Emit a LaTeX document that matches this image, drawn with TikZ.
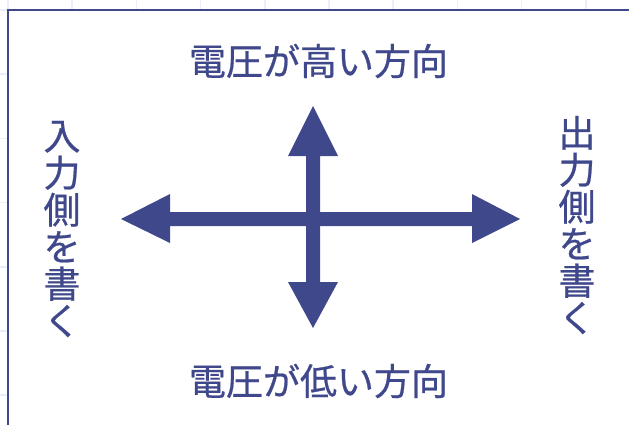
\documentclass[tikz,border=0pt]{standalone}
\usepackage{fontspec}
\newfontfamily\jpfont[FakeBold=0.6]{Noto Sans CJK JP}
\definecolor{navy}{RGB}{64,72,140}
\definecolor{gridc}{RGB}{232,238,250}
\begin{document}
\begin{tikzpicture}[x=1pt,y=-1pt,
  lbl/.style={text=navy,font=\jpfont\fontsize{37}{37}\selectfont,inner sep=0pt},
  vlbl/.style={lbl,align=center},
  arr/.style={fill=navy,draw=none}]
\useasboundingbox (0,0) rectangle (629,424);
\begin{scope}
\clip (0,0) rectangle (629,424);
\foreach \k in {0,...,9}{
  \draw[gridc,line width=1.5pt] ({8+64.2*\k},0) -- ({8+64.2*\k},424);
}
\foreach \k in {0,...,6}{
  \draw[gridc,line width=1.5pt] (0,{10+64.2*\k}) -- (629,{10+64.2*\k});
}
\filldraw[fill=white,draw=navy,line width=2.5pt] (8,10) rectangle (660,460);
\end{scope}
% arrows
\coordinate (c) at (313,219);
\fill[arr] (306,226) -- (306,156) -- (288,156) -- (313,106) -- (338,156) -- (320,156)
  -- (320,282) -- (338,282) -- (313,328) -- (288,282) -- (306,282) -- cycle;
\fill[arr] (170,212) -- (472,212) -- (472,194) -- (520,219) -- (472,243) -- (472,226)
  -- (170,226) -- (170,243) -- (121,219) -- (170,194) -- cycle;
% labels
\node[lbl] (top) at (318.5,61) {電圧が高い方向};
\node[lbl] (bot) at (318.5,381) {電圧が低い方向};
\node[vlbl] (left) at (62,229) {入\\力\\側\\を\\書\\く};
\node[vlbl] (right) at (577,225) {出\\力\\側\\を\\書\\く};
\end{tikzpicture}
\end{document}
